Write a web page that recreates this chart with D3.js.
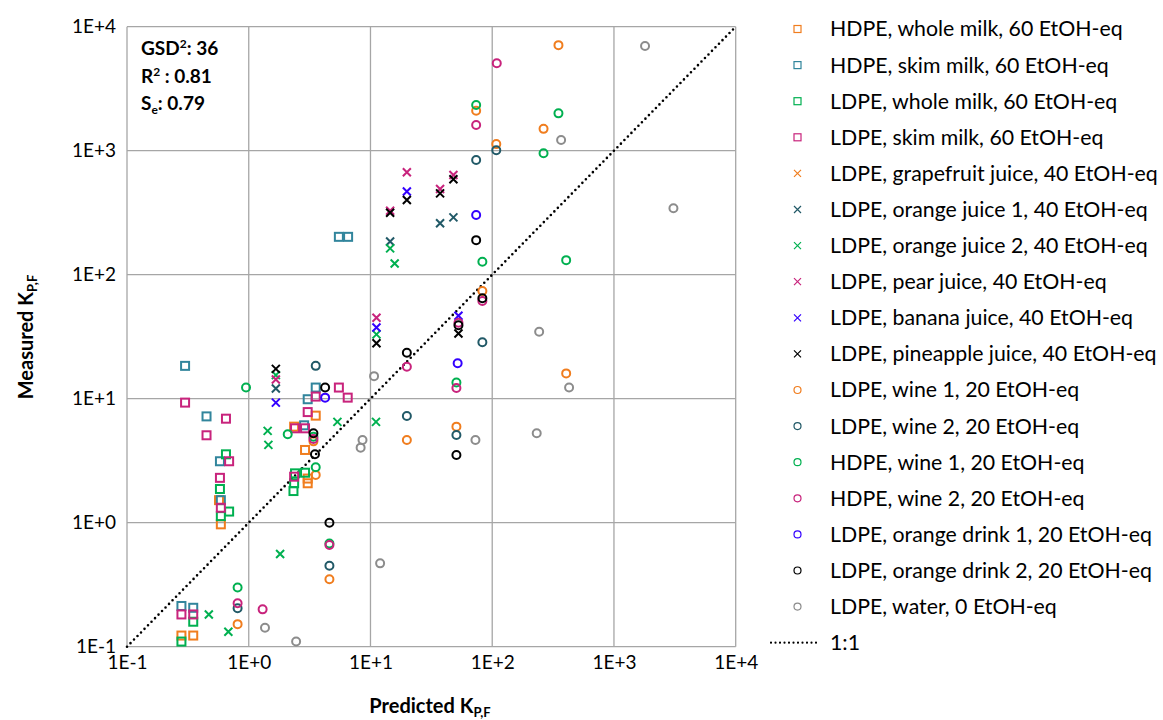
<!DOCTYPE html>
<html><head><meta charset="utf-8">
<script src="https://cdn.jsdelivr.net/npm/d3@7"></script>
<style>
body{margin:0;background:#fff;}
svg{font-family:Lato,"Open Sans",sans-serif;}
</style></head>
<body><svg id="c" width="1163" height="720"></svg>
<script>
// ---------- data (Predicted, Measured) ----------
const tickValues = [0.1, 1, 10, 100, 1000, 10000];
const tickLabels = ["1E-1", "1E+0", "1E+1", "1E+2", "1E+3", "1E+4"];

const hdpeWholeMilk = [[0.57,1.52],[0.59,0.97],[3.55,7.3],[2.36,5.95],[2.9,3.86],[3.05,2.27],[3.05,2.08],[0.28,0.123],[0.35,0.123]];
const hdpeSkimMilk = [[0.30,18.4],[0.45,7.2],[0.58,3.13],[0.59,1.52],[0.28,0.213],[0.35,0.206],[3.55,12.3],[3.05,9.9],[2.85,6.1],[5.5,202],[6.55,202]];
const ldpeWholeMilk = [[0.65,3.56],[0.58,1.87],[0.69,1.23],[0.59,1.13],[0.35,0.159],[0.28,0.110],[2.4,2.5],[2.9,2.53],[2.36,2.08],[2.33,1.8]];
const ldpeSkimMilk = [[0.30,9.3],[0.65,6.9],[0.45,5.07],[0.69,3.13],[0.58,2.3],[0.59,1.32],[0.28,0.182],[0.35,0.182],[5.5,12.3],[3.55,10.4],[6.5,10.2],[3.05,7.8],[2.4,5.77],[2.9,5.77],[2.36,2.35]];
const grapefruitJuice = [];
const orangeJuice1 = [[1.67,12.1],[14.5,185],[37.3,260],[48,290]];
const orangeJuice2 = [[1.43,5.5],[1.45,4.24],[0.47,0.182],[0.68,0.132],[1.81,0.56],[5.35,6.5],[11.1,6.5],[1.67,15.5],[14.5,163],[15.8,123],[11.2,33]];
const pearJuice = [[1.67,14.3],[19.9,670],[48,637],[37.3,491],[14.5,328],[11.2,45]];
const bananaJuice = [[1.67,9.3],[19.9,469],[11.2,37.5],[52.8,46.7]];
const pineappleJuice = [[1.67,17.4],[19.9,400],[48,588],[37.3,453],[14.5,316],[11.2,28],[52.8,33.6]];
const ldpeWine1 = [[0.81,0.152],[4.6,0.35],[3.4,4.53],[3.55,2.43],[73.8,2100],[108,1130],[350,7100],[264,1500],[83,74],[19.9,4.64],[50.8,5.95],[405,16]];
const ldpeWine2 = [[0.81,0.204],[4.6,0.45],[3.55,18.4],[73.8,841],[108,1010],[83,28.5],[19.9,7.25],[50.8,5.1]];
const hdpeWine1 = [[0.95,12.3],[0.81,0.30],[4.6,0.68],[2.09,5.16],[3.4,4.94],[3.55,2.8],[73.8,2340],[350,2000],[264,953],[405,131],[83,127],[50.8,13.5]];
const hdpeWine2 = [[0.81,0.224],[1.30,0.20],[4.6,0.66],[3.4,4.73],[73.8,1610],[109,5070],[83,61.4],[52.8,41],[19.9,18.1],[50.8,12.2]];
const orangeDrink1 = [[4.24,10.2],[73.8,303],[52,19.3]];
const orangeDrink2 = [[4.24,12.3],[3.4,5.26],[3.5,3.56],[4.6,1.0],[73.8,190],[83,64.5],[52.8,39.1],[19.9,23.5],[50.8,3.52]];
const water = [[1.36,0.142],[2.45,0.110],[12.0,0.47],[8.6,4.64],[8.3,4.03],[10.7,15.2],[72.8,4.64],[243,34.7],[428,12.3],[232,5.26],[368,1220],[1800,6980],[3080,343]];

const seriesNames = ["HDPE, whole milk, 60 EtOH-eq","HDPE, skim milk, 60 EtOH-eq","LDPE, whole milk, 60 EtOH-eq","LDPE, skim milk, 60 EtOH-eq","LDPE, grapefruit juice, 40 EtOH-eq","LDPE, orange juice 1, 40 EtOH-eq","LDPE, orange juice 2, 40 EtOH-eq","LDPE, pear juice, 40 EtOH-eq","LDPE, banana juice, 40 EtOH-eq","LDPE, pineapple juice, 40 EtOH-eq","LDPE, wine 1,  20 EtOH-eq","LDPE, wine 2, 20 EtOH-eq","HDPE, wine 1, 20 EtOH-eq","HDPE, wine 2, 20 EtOH-eq","LDPE, orange drink 1, 20 EtOH-eq","LDPE, orange drink 2, 20 EtOH-eq","LDPE, water, 0 EtOH-eq"];
const seriesData = [hdpeWholeMilk,hdpeSkimMilk,ldpeWholeMilk,ldpeSkimMilk,grapefruitJuice,orangeJuice1,orangeJuice2,pearJuice,bananaJuice,pineappleJuice,ldpeWine1,ldpeWine2,hdpeWine1,hdpeWine2,orangeDrink1,orangeDrink2,water];
const seriesShapes = ["square","square","square","square","x","x","x","x","x","x","circle","circle","circle","circle","circle","circle","circle"];
const seriesColors = ["#F07D1E","#31859C","#00B050","#C8237C","#F07D1E","#215967","#00B050","#C8237C","#3300FF","#000000","#F07D1E","#215967","#00B050","#C8237C","#3300FF","#000000","#8C8C8C"];

// ---------- layout ----------
const svg = d3.select("#c");
const L = 127, R = 735.7, T = 26.7, B = 646.7;
const x = d3.scaleLog().domain([0.1, 10000]).range([L, R]);
const y = d3.scaleLog().domain([0.1, 10000]).range([B, T]);
const fmt = d => tickLabels[tickValues.indexOf(d)];

// gridlines
const grid = svg.append("g").attr("stroke", "#A6A6A6").attr("stroke-width", 1.3);
grid.selectAll("line.v").data(tickValues).join("line").attr("x1", d => x(d)).attr("x2", d => x(d)).attr("y1", T).attr("y2", B);
grid.selectAll("line.h").data(tickValues).join("line").attr("y1", d => y(d)).attr("y2", d => y(d)).attr("x1", L).attr("x2", R);

// axes
const xa = svg.append("g").attr("transform", `translate(0,${B})`)
  .call(d3.axisBottom(x).tickValues(tickValues).tickFormat(fmt).tickSize(0).tickPadding(9));
const ya = svg.append("g").attr("transform", `translate(${L},0)`)
  .call(d3.axisLeft(y).tickValues(tickValues).tickFormat(fmt).tickSize(0).tickPadding(11));
[xa, ya].forEach(a => { a.select(".domain").remove(); a.selectAll("text").attr("font-family", "Lato").attr("font-size", 19).attr("fill", "#000"); });

// 1:1 line
svg.append("line").attr("x1", x(0.1)).attr("y1", y(0.1)).attr("x2", x(10000)).attr("y2", y(10000))
  .attr("stroke", "#000").attr("stroke-width", 2.6).attr("stroke-dasharray", "0,5").attr("stroke-linecap", "round");

// markers
function drawMarker(g, shape, color, s, sw) {
  if (shape === "square") {
    g.append("rect").attr("x", -s/2).attr("y", -s/2).attr("width", s).attr("height", s)
      .attr("fill", "none").attr("stroke", color).attr("stroke-width", sw);
  } else if (shape === "circle") {
    g.append("circle").attr("r", s/2).attr("fill", "none").attr("stroke", color).attr("stroke-width", sw);
  } else {
    const h = s/2;
    g.append("path").attr("d", `M${-h},${-h}L${h},${h}M${-h},${h}L${h},${-h}`)
      .attr("fill", "none").attr("stroke", color).attr("stroke-width", sw);
  }
}
const pts = svg.append("g");
seriesData.forEach((data, i) => {
  data.forEach(d => {
    const g = pts.append("g").attr("transform", `translate(${x(d[0])},${y(d[1])})`);
    drawMarker(g, seriesShapes[i], seriesColors[i], 8, 2);
  });
});

// annotation
const ann = svg.append("g").attr("font-family", "Lato").attr("font-weight", "bold").attr("font-size", 19).attr("fill", "#000");
let t = ann.append("text").attr("x", 141).attr("y", 55);
t.append("tspan").text("GSD");
t.append("tspan").attr("dy", -7).attr("font-size", 12).text("2");
t.append("tspan").attr("dy", 7).text(": 36");
t = ann.append("text").attr("x", 141).attr("y", 83);
t.append("tspan").text("R");
t.append("tspan").attr("dy", -7).attr("font-size", 12).text("2");
t.append("tspan").attr("dy", 7).text(" : 0.81");
t = ann.append("text").attr("x", 141).attr("y", 110);
t.append("tspan").text("S");
t.append("tspan").attr("dy", 4).attr("font-size", 12).text("e");
t.append("tspan").attr("dy", -4).text(": 0.79");

// axis titles
t = svg.append("text").attr("x", 430).attr("y", 713).attr("text-anchor", "middle")
  .attr("font-family", "Lato").attr("font-weight", "bold").attr("font-size", 20);
t.append("tspan").text("Predicted K");
t.append("tspan").attr("dy", 4).attr("font-size", 13).text("P,F");
t = svg.append("text").attr("transform", "translate(33,337) rotate(-90)").attr("text-anchor", "middle")
  .attr("font-family", "Lato").attr("font-weight", "bold").attr("font-size", 20);
t.append("tspan").text("Measured K");
t.append("tspan").attr("dy", 4).attr("font-size", 13).text("P,F");

// legend
const lg = svg.append("g").attr("font-family", "Lato").attr("font-size", 21.3);
seriesNames.forEach((name, i) => {
  const yy = 29 + i * 36.1;
  const g = lg.append("g").attr("transform", `translate(797.5,${yy})`);
  drawMarker(g, seriesShapes[i], seriesColors[i], 7, 1.2);
  lg.append("text").attr("x", 830).attr("y", yy).attr("dy", "0.35em").text(name);
});
const yl = 29 + 17 * 36.1;
lg.append("line").attr("x1", 771).attr("x2", 818).attr("y1", yl).attr("y2", yl)
  .attr("stroke", "#000").attr("stroke-width", 2.2).attr("stroke-dasharray", "0,4.5").attr("stroke-linecap", "round");
lg.append("text").attr("x", 830).attr("y", yl).attr("dy", "0.35em").text("1:1");
</script></body></html>
